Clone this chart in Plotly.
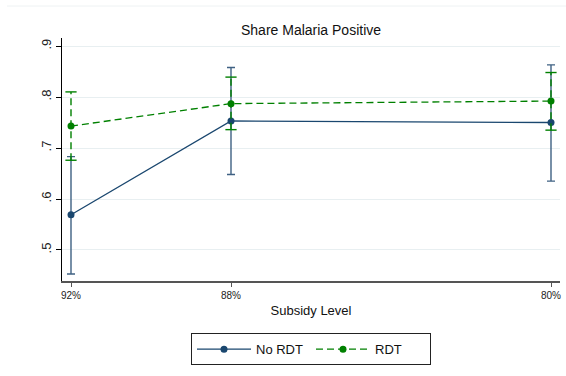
import plotly.graph_objects as go

subsidy = [92, 88, 80]
subsidy_labels = ["92%", "88%", "80%"]

no_rdt = [0.569, 0.753, 0.750]
no_rdt_hi = [0.683, 0.858, 0.863]
no_rdt_lo = [0.453, 0.648, 0.635]

rdt = [0.743, 0.787, 0.792]
rdt_hi = [0.810, 0.839, 0.848]
rdt_lo = [0.676, 0.736, 0.735]

y_ticks = [0.5, 0.6, 0.7, 0.8, 0.9]
y_labels = [".5", ".6", ".7", ".8", ".9"]

NAVY = "#1a476f"
NAVY_ERR = "#3f6183"
GREEN = "#008000"

fig = go.Figure()
fig.add_trace(go.Scatter(
    x=subsidy, y=no_rdt, mode="lines+markers", name="No RDT",
    line=dict(color=NAVY, width=1.3),
    marker=dict(color=NAVY, size=7),
    error_y=dict(type="data", symmetric=False,
                 array=[h - v for h, v in zip(no_rdt_hi, no_rdt)],
                 arrayminus=[v - l for v, l in zip(no_rdt, no_rdt_lo)],
                 color=NAVY_ERR, thickness=1.4, width=4),
))

# RDT confidence intervals: dashed vertical segments plus caps
ci_x, ci_y = [], []
for xv, lo, hi in zip(subsidy, rdt_lo, rdt_hi):
    ci_x += [xv, xv, None]
    ci_y += [lo, hi, None]
fig.add_trace(go.Scatter(
    x=ci_x, y=ci_y, mode="lines", showlegend=False, hoverinfo="skip",
    line=dict(color=GREEN, width=1.4, dash="7px,4px"),
))
fig.add_trace(go.Scatter(
    x=subsidy + subsidy, y=rdt_lo + rdt_hi, mode="markers", showlegend=False,
    hoverinfo="skip",
    marker=dict(symbol="line-ew", size=8, line=dict(color=GREEN, width=1.4)),
))
fig.add_trace(go.Scatter(
    x=subsidy, y=rdt, mode="lines+markers", name="RDT",
    line=dict(color=GREEN, width=1.3, dash="7px,4px"),
    marker=dict(color=GREEN, size=7),
))

fig.update_layout(
    width=566, height=376,
    margin=dict(l=62, r=6, t=38, b=95),
    paper_bgcolor="white", plot_bgcolor="white",
    font=dict(family="Liberation Sans, Arial, sans-serif", color="#222222"),
    title=dict(text="Share Malaria Positive", x=0.5, xref="paper", xanchor="center",
               y=1 - 30 / 376, yref="container", yanchor="middle",
               font=dict(size=14, color="#111111")),
    showlegend=True,
    legend=dict(orientation="h", x=0.5, xanchor="center", y=-0.215, yanchor="top",
                bordercolor="#222222", borderwidth=1, font=dict(size=13, color="#111111"),
                itemwidth=54, entrywidth=50, tracegroupgap=0),
    xaxis=dict(range=[92.225, 79.775], tickmode="array", tickvals=subsidy,
               ticktext=subsidy_labels, showgrid=False, zeroline=False,
               showline=True, linecolor="#555555", linewidth=1.5,
               ticks="outside", ticklen=4, tickcolor="#555555",
               tickfont=dict(size=10, color="#222222"),
               title=dict(text="Subsidy Level", font=dict(size=13, color="#111111"), standoff=6)),
    yaxis=dict(range=[0.4392, 0.9157], tickmode="array", tickvals=y_ticks,
               ticktext=y_labels, tickangle=-90, showgrid=True, gridcolor="#e8eff1",
               gridwidth=1, zeroline=False, showline=True, linecolor="#000000", linewidth=1.2,
               ticks="outside", ticklen=5, tickcolor="#000000",
               tickfont=dict(size=13, color="#222222")),
    shapes=[dict(type="line", xref="paper", yref="paper",
                 x0=(7 - 62) / 498, x1=(566 - 62) / 498,
                 y0=(281 - 6) / 243, y1=(281 - 6) / 243,
                 line=dict(color="#eef2f3", width=1))],
)

fig.write_html("out.html")
